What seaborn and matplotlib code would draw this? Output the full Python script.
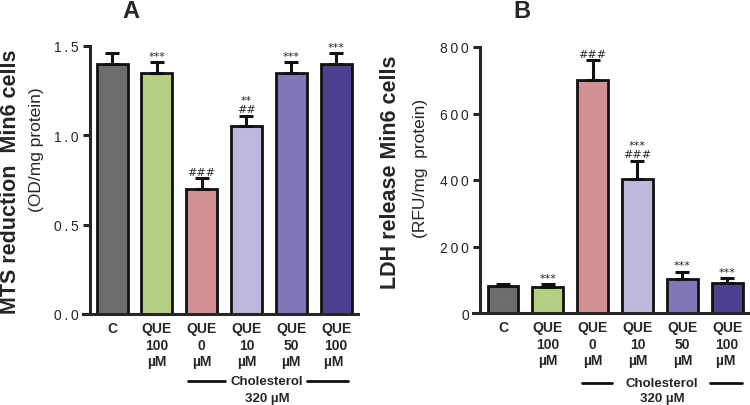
import matplotlib
matplotlib.use("Agg")
import matplotlib.pyplot as plt
import seaborn as sns
import pandas as pd

# data
groups = ["C", "QUE\n100\nµM", "QUE\n0\nµM", "QUE\n10\nµM", "QUE\n50\nµM", "QUE\n100\nµM "]
colors = ["#6d6d6d", "#b4cf82", "#d39196", "#bfb8dc", "#7f77b7", "#4b418f"]

mts_mean = [1.40, 1.35, 0.70, 1.05, 1.35, 1.40]
mts_err = [0.06, 0.06, 0.06, 0.06, 0.06, 0.06]
mts_marks = ["", "***", "###", "**\n##", "***", "***"]

ldh_mean = [82, 79, 702, 402, 102, 89]
ldh_err = [4, 8, 58, 56, 22, 16]
ldh_marks = ["", "***", "###", "***\n###", "***", "***"]

sns.set_style("ticks")
plt.rcParams['font.family'] = ['Liberation Sans', 'DejaVu Sans']

fig = plt.figure(figsize=(7.5, 4.06), dpi=100)
axA = fig.add_axes([83 / 750, 1 - 315 / 406, 275 / 750, 268 / 406])
axB = fig.add_axes([473 / 750, 1 - 314 / 406, 277 / 750, 266 / 406])

THIN = "\u2009"


def draw_panel(ax, means, errs, marks, ymax, yticks, fmt, xlim, mark_off):
    df = pd.DataFrame({'group': groups, 'value': means})
    sns.barplot(x='group', y='value', hue='group', data=df, palette=colors,
                saturation=1, legend=False, width=0.69, edgecolor='#111111',
                linewidth=2.0, ax=ax, dodge=False)
    x = list(range(len(means)))
    ax.errorbar(x, means, yerr=[[0] * len(errs), errs], fmt='none',
                ecolor='#111111', elinewidth=2.2, capsize=5, capthick=2.2, zorder=1)
    for xi, m, e, t in zip(x, means, errs, marks):
        if t:
            ax.annotate(t, (xi, m + e), xytext=(0, mark_off), textcoords='offset points',
                        ha='center', va='bottom', fontsize=8, linespacing=0.95,
                        family=['DejaVu Sans'])
    ax.set_xlim(*xlim)
    ax.set_ylim(0, ymax)
    ax.set_yticks(yticks)
    ax.set_yticklabels([THIN.join(fmt.format(v)) for v in yticks],
                       fontsize=9.5, fontweight='bold')
    ax.set_xlabel('')
    ax.set_ylabel('')
    ax.tick_params(axis='x', length=0, pad=5)
    ax.tick_params(axis='y', length=5, width=2.2, pad=3)
    for lab in ax.get_xticklabels():
        lab.set_fontsize(10)
        lab.set_fontweight('bold')
        lab.set_linespacing(1.25)
    sns.despine(ax=ax)
    ax.spines['left'].set_bounds(0, ymax)
    ax.spines['left'].set_position(('outward', -5))
    ax.spines['left'].set_linewidth(2.2)
    ax.spines['bottom'].set_linewidth(2.2)


draw_panel(axA, mts_mean, mts_err, mts_marks, 1.5, [0.0, 0.5, 1.0, 1.5], "{:.1f}",
           (-0.65, 5.49), 1)
draw_panel(axB, ldh_mean, ldh_err, ldh_marks, 800, [0, 200, 400, 600, 800], "{:.0f}",
           (-0.67, 5.51), 1)


def cholesterol(ax, l1, l2, r1, r2, xc, y1, y2):
    tr = ax.get_xaxis_transform()
    ax.plot([l1, l2], [y1, y1], color='#111111', lw=2, transform=tr, clip_on=False)
    ax.plot([r1, r2], [y1, y1], color='#111111', lw=2, transform=tr, clip_on=False)
    ax.text(xc, y1, "Cholesterol", transform=tr, ha='center', va='center',
            fontsize=9.5, fontweight='bold')
    ax.text(xc, y2, "320 µM", transform=tr, ha='center', va='center',
            fontsize=9.5, fontweight='bold')


cholesterol(axA, 1.70, 2.52, 4.36, 5.27, 3.46, -0.25, -0.313)
cholesterol(axB, 1.76, 2.42, 4.62, 5.33, 3.55, -0.263, -0.32)

fig.text(131 / 750, 1 - 12 / 406, "A", ha='center', va='center', fontsize=17, fontweight='bold')
fig.text(522 / 750, 1 - 12 / 406, "B", ha='center', va='center', fontsize=17, fontweight='bold')

fig.text(11 / 750, 1 - 182 / 406, "MTS reduction  Min6 cells", rotation=90,
         ha='center', va='center', fontsize=15.5, fontweight='bold')
fig.text(36 / 750, 1 - 150 / 406, "(OD/mg protein)", rotation=90,
         ha='center', va='center', fontsize=12.5)
fig.text(391 / 750, 1 - 172 / 406, "LDH release Min6 cells", rotation=90,
         ha='center', va='center', fontsize=15.5, fontweight='bold')
fig.text(420 / 750, 1 - 168 / 406, "(RFU/mg  protein)", rotation=90,
         ha='center', va='center', fontsize=12.5)

fig.savefig("out.png", dpi=100)
